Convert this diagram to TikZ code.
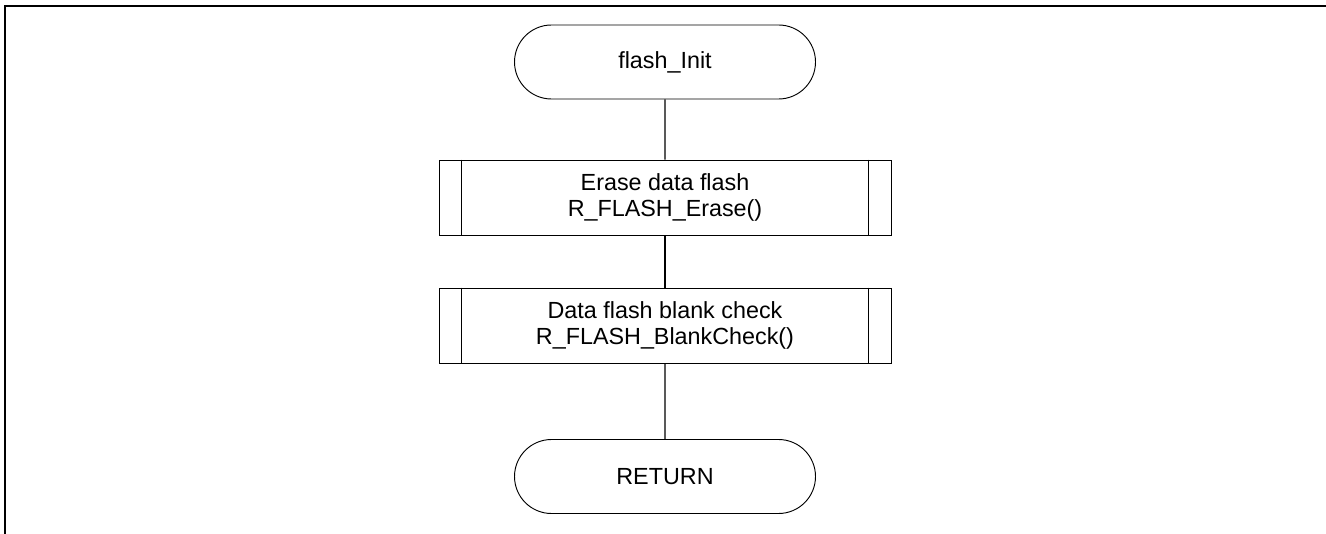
\documentclass[tikz,border=0pt]{standalone}
\usepackage{fontspec}
\setmainfont{Liberation Sans}
\usetikzlibrary{shapes.misc}
\begin{document}
\begin{tikzpicture}[x=0.75pt,y=-0.75pt,
  txt/.style={align=center,font=\fontsize{17.5}{20}\selectfont,inner sep=0pt},
  term/.style={txt,rounded rectangle,draw,line width=0.7pt,minimum width=225.75pt,minimum height=55.5pt},
  proc/.style={txt,rectangle,draw,line width=0.7pt,minimum width=339pt,minimum height=56.25pt},
  conn/.style={line width=0.9pt},
  frame/.style={line width=1.9pt}]
\useasboundingbox (0,0) rectangle (1326,534);
\draw[frame] (5,534) -- (5,6) -- (1326,6);
\node[term] (start) at (665,62) {flash\_Init};
\node[proc] (erase) at (665,197.5) {Erase data flash\\R\_FLASH\_Erase()};
\node[proc] (blank) at (665,325.5) {Data flash blank check\\R\_FLASH\_BlankCheck()};
\node[term] (ret) at (665,476.5) {RETURN};
\foreach \n in {erase,blank}{
  \draw[line width=0.7pt] ([xshift=17.25pt]\n.north west) -- ([xshift=17.25pt]\n.south west);
  \draw[line width=0.7pt] ([xshift=-17.25pt]\n.north east) -- ([xshift=-17.25pt]\n.south east);
}
\draw[conn] (start) -- (erase);
\draw[conn] (erase) -- (blank);
\draw[conn] (blank) -- (ret);
\end{tikzpicture}
\end{document}
